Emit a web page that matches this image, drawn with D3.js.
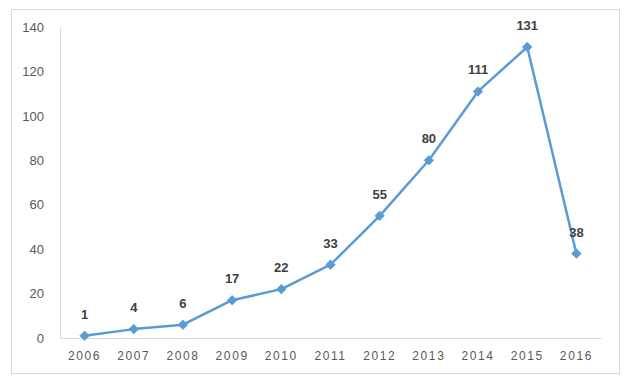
<!DOCTYPE html>
<html><head><meta charset="utf-8">
<script src="https://cdn.jsdelivr.net/npm/d3@7"></script>
<style>body{margin:0;background:#fff}svg{display:block}</style>
</head><body>
<svg id="c" width="627" height="383"></svg>
<script>
const years = ["2006","2007","2008","2009","2010","2011","2012","2013","2014","2015","2016"];
const values = [1,4,6,17,22,33,55,80,111,131,38];
const yTicks = [0,20,40,60,80,100,120,140];

const svg = d3.select("#c");
svg.append("rect").attr("x",11.5).attr("y",9.5).attr("width",608).attr("height",364)
  .attr("fill","#fff").attr("stroke","#d9d9d9");

const x = d3.scaleBand().domain(years).range([60,601]);
const y = d3.scaleLinear().domain([0,140]).range([338,27]);

// axes
const gx = svg.append("g").attr("transform","translate(0,338)")
  .call(d3.axisBottom(x).tickSize(0).tickPadding(13));
gx.select(".domain").attr("stroke","#d9d9d9").attr("stroke-width",1);
gx.selectAll("text").attr("font-family","Liberation Sans, Arial, sans-serif")
  .attr("font-size","12px").attr("fill","#595959").attr("letter-spacing","1.6px");

const gy = svg.append("g").attr("transform","translate(60,0)")
  .call(d3.axisLeft(y).tickValues(yTicks).tickSize(0).tickPadding(16));
gy.select(".domain").attr("stroke","#d9d9d9").attr("stroke-width",1);
gy.selectAll("text").attr("font-family","Liberation Sans, Arial, sans-serif")
  .attr("font-size","13px").attr("fill","#595959");

const cx = d => x(d) + x.bandwidth()/2;
const pts = years.map((yr,i)=>({yr, v:values[i]}));

svg.append("path").datum(pts)
  .attr("fill","none").attr("stroke","#5B9BD5").attr("stroke-width",2.5)
  .attr("stroke-linejoin","round")
  .attr("d", d3.line().x(d=>cx(d.yr)).y(d=>y(d.v)));

svg.selectAll("path.m").data(pts).join("path").attr("class","m")
  .attr("transform", d=>`translate(${cx(d.yr)},${y(d.v)})`)
  .attr("d", d3.symbol(d3.symbolDiamond2, 58)())
  .attr("fill","#5B9BD5").attr("stroke","#5B9BD5").attr("stroke-width",0.75);

svg.selectAll("text.lbl").data(pts).join("text").attr("class","lbl")
  .attr("x", d=>cx(d.yr)).attr("y", d=>y(d.v)-17)
  .attr("text-anchor","middle")
  .attr("font-family","Liberation Sans, Arial, sans-serif")
  .attr("font-size","13px").attr("font-weight","bold").attr("fill","#404040")
  .text(d=>d.v);
</script>
</body></html>
